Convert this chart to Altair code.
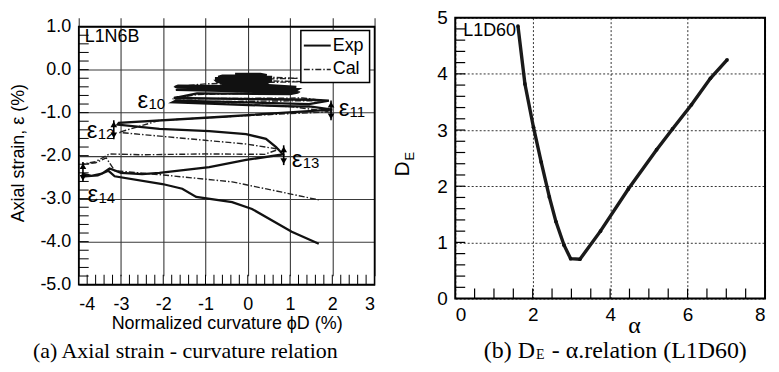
import altair as alt
import numpy as np
import pandas as pd

SANS = "Liberation Sans"
SERIF = "Liberation Serif"

# ---------------- panel (a): axial strain vs normalized curvature ----------------
exp_x = [-0.30, 0.30, 0.45, -0.60, -0.70, 0.55, 0.55, -0.75, -0.75, 0.55, 0.55, -0.75, -0.72, 0.50, 0.45, -0.65, -0.50, 0.30,
         1.15, -1.65, -1.72, 1.20, 1.15, -1.60, -1.70, 1.20, 1.00, -1.20,
         -1.75, 1.50, 1.92, 1.45, -1.70, -1.78, 0.80, 1.50, 2.00, -0.50, -3.05,
         -3.08, -2.09, -0.91, -0.04, 0.43, 0.67, 0.83,
         -0.04, -0.91, -2.09, -2.50, -3.00, -3.27, -3.45, -3.70, -3.92, -3.85, -3.55, -3.30, -3.15,
         -2.02, -1.55, -1.22, -0.37, 0.10, 1.04, 1.68]
exp_y = [-0.10, -0.10, -0.13, -0.14, -0.17, -0.17, -0.20, -0.20, -0.23, -0.23, -0.26, -0.26, -0.29, -0.29, -0.32, -0.32, -0.35, -0.35,
         -0.40, -0.37, -0.40, -0.45, -0.48, -0.44, -0.47, -0.53, -0.57, -0.55,
         -0.66, -0.70, -0.72, -0.80, -0.72, -0.76, -0.85, -0.86, -0.93, -1.09, -1.24,
         -1.28, -1.38, -1.43, -1.50, -1.61, -1.80, -1.97,
         -2.10, -2.27, -2.40, -2.43, -2.40, -2.30, -2.42, -2.47, -2.42, -2.48, -2.46, -2.35, -2.48,
         -2.66, -2.77, -2.96, -3.08, -3.24, -3.77, -4.05]

cal_x = [-0.40, 1.20, -0.60, 1.30, -1.00, -1.75, 1.20, -1.60, 1.25, -1.20,
         -1.78, 1.30, 1.80, -1.60, 1.00, 2.00, -0.04, -2.09, -3.05, -0.04,
         0.74, 0.40, -1.00, -2.50, -3.27, -3.60, -3.92, -3.60, -3.35, -3.15,
         -2.00, -0.37, 0.81, 1.68]
cal_y = [-0.15, -0.20, -0.24, -0.28, -0.33, -0.40, -0.46, -0.46, -0.52, -0.58,
         -0.68, -0.66, -0.72, -0.75, -0.86, -0.98, -1.07, -1.18, -1.46, -1.73,
         -1.85, -1.97, -1.96, -1.98, -1.96, -2.14, -2.20, -2.17, -2.05, -2.35,
         -2.45, -2.61, -2.85, -3.03]

eps_sub = ["10", "11", "12", "13", "14"]
eps_x = [-2.61, 2.15, -3.81, 1.04, -3.79]
eps_y = [-0.74, -0.92, -1.43, -2.10, -2.91]

arrow_x = [1.97, -3.17, 0.85, -3.90]
arrow_top = [-0.72, -1.18, -1.76, -2.15]
arrow_bot = [-1.18, -1.62, -2.22, -2.61]

legend_labels = ["Exp", "Cal"]

x1_ticks = [-4, -3, -2, -1, 0, 1, 2, 3]
y1_ticks = [-5, -4, -3, -2, -1, 0, 1]

# ---------------- panel (b): D_E vs alpha ----------------
alpha_vals = [1.62, 1.80, 2.02, 2.22, 2.43, 2.60, 2.81, 2.98, 3.22, 3.75, 4.47, 5.20, 5.61, 6.10, 6.59, 7.02]
de_vals = [4.85, 3.82, 3.05, 2.43, 1.81, 1.37, 0.95, 0.71, 0.70, 1.20, 1.95, 2.65, 3.02, 3.45, 3.92, 4.25]

x2_ticks = [0, 2, 4, 6, 8]
y2_ticks = [0, 1, 2, 3, 4, 5]

# ---------------- layout ----------------
W1, H1, TOP1 = 297, 268, 9
W2, H2 = 311, 282
TL = 5  # minor tick length (inward)

one = pd.DataFrame({"a": [0]})
LBL1 = "replace(format(datum.value, '.1f'), '\u2212', '-')"
LBL0 = "replace(format(datum.value, 'd'), '\u2212', '-')"


def label(text, x, y, size, font=SANS, angle=0, align="center", baseline="middle", dx=0, dy=0):
    mk = dict(text=text, font=font, fontSize=size, align=align, baseline=baseline, color="black")
    if angle:
        mk["angle"] = angle
    if dx:
        mk["dx"] = dx
    if dy:
        mk["dy"] = dy
    return alt.Chart(one).mark_text(**mk).encode(x=alt.value(x), y=alt.value(y))


xs1 = alt.Scale(domain=[-4, 3], nice=False, zero=False)
ys1 = alt.Scale(domain=[-5, 1], range=[H1, TOP1], nice=False, zero=False)

exp_df = pd.DataFrame({"x": exp_x, "y": exp_y, "i": range(len(exp_x))})
cal_df = pd.DataFrame({"x": cal_x, "y": cal_y, "i": range(len(cal_x))})
eps_df = pd.DataFrame({"x": eps_x, "y": eps_y, "sub": eps_sub})
arr_df = pd.DataFrame({"x": arrow_x, "top": arrow_top, "bot": arrow_bot})

xax1 = alt.Axis(values=x1_ticks, labelExpr=LBL0, grid=True, gridColor="#3a3a3a", gridWidth=1.1,
                ticks=False, domain=False, labelFont=SANS, labelFontSize=18, labelPadding=11,
                labelColor="black", title=None)
yax1 = alt.Axis(values=y1_ticks, labelExpr=LBL1, grid=True, gridColor="#3a3a3a", gridWidth=1.1,
                ticks=False, domain=False, labelFont=SANS, labelFontSize=18, labelPadding=8,
                labelColor="black", title=None)

grid1 = alt.Chart(one).mark_point(opacity=0).encode(
    x=alt.X("xv:Q", scale=xs1, axis=xax1), y=alt.Y("yv:Q", scale=ys1, axis=yax1)
).transform_calculate(xv="0", yv="0")

exp_line = alt.Chart(exp_df).mark_line(color="#111", strokeWidth=2.3).encode(
    x=alt.X("x:Q", scale=xs1), y=alt.Y("y:Q", scale=ys1), order="i:Q")
cal_line = alt.Chart(cal_df).mark_line(color="#222", strokeWidth=1.4, strokeDash=[6, 2, 1.5, 2]).encode(
    x=alt.X("x:Q", scale=xs1), y=alt.Y("y:Q", scale=ys1), order="i:Q")

frame1 = alt.Chart(pd.DataFrame({"x0": [-4], "x1": [3], "y0": [-5], "y1": [1]})).mark_rect(
    fillOpacity=0, stroke="black", strokeWidth=1.6).encode(
    x=alt.X("x0:Q", scale=xs1), x2="x1", y=alt.Y("y0:Q", scale=ys1), y2="y1")

# inward minor ticks
mx1 = pd.DataFrame({"v": [round(float(v), 2) for v in np.arange(-3.8, 3.0, 0.2)], "b": -5.0})
my1 = pd.DataFrame({"v": [round(float(v), 2) for v in np.arange(-4.8, 1.0, 0.2)], "b": -4.0})
tick_x1 = alt.Chart(mx1).mark_tick(orient="vertical", size=2 * TL, thickness=1, color="black",
                                   opacity=1, yOffset=-TL).encode(
    x=alt.X("v:Q", scale=xs1), y=alt.Y("b:Q", scale=ys1))
tick_y1 = alt.Chart(my1).mark_tick(orient="horizontal", size=2 * TL, thickness=1, color="black",
                                   opacity=1, xOffset=TL).encode(
    y=alt.Y("v:Q", scale=ys1), x=alt.X("b:Q", scale=xs1))

arr_rule = alt.Chart(arr_df).mark_rule(color="black", strokeWidth=1.6).encode(
    x=alt.X("x:Q", scale=xs1), y=alt.Y("top:Q", scale=ys1), y2="bot")
arr_up = alt.Chart(arr_df).mark_point(shape="triangle-up", filled=True, color="black", size=45,
                                      opacity=1, yOffset=4).encode(
    x=alt.X("x:Q", scale=xs1), y=alt.Y("top:Q", scale=ys1))
arr_dn = alt.Chart(arr_df).mark_point(shape="triangle-down", filled=True, color="black", size=45,
                                      opacity=1, yOffset=-4).encode(
    x=alt.X("x:Q", scale=xs1), y=alt.Y("bot:Q", scale=ys1))

eps_main = alt.Chart(eps_df).mark_text(text="\u03b5", font=SANS, fontSize=24, align="left",
                                       baseline="middle", color="black").encode(
    x=alt.X("x:Q", scale=xs1), y=alt.Y("y:Q", scale=ys1))
eps_num = alt.Chart(eps_df).mark_text(font=SANS, fontSize=15, align="left", baseline="middle",
                                      color="black", dx=11, dy=3).encode(
    x=alt.X("x:Q", scale=xs1), y=alt.Y("y:Q", scale=ys1), text="sub:N")

leg_box = alt.Chart(one).mark_rect(fill="white", stroke="black", strokeWidth=1.5).encode(
    x=alt.value(223), x2=alt.value(292), y=alt.value(13), y2=alt.value(65))
leg_exp = alt.Chart(one).mark_rule(color="#111", strokeWidth=2).encode(
    x=alt.value(226), x2=alt.value(253), y=alt.value(28))
leg_cal = alt.Chart(one).mark_rule(color="#222", strokeWidth=1.4, strokeDash=[6, 2, 1.5, 2]).encode(
    x=alt.value(226), x2=alt.value(253), y=alt.value(52))

left = alt.layer(
    grid1, tick_x1, tick_y1, frame1, cal_line, exp_line, arr_rule, arr_up, arr_dn, eps_main, eps_num,
    leg_box, leg_exp, leg_cal,
    label(legend_labels[0], 255, 28, 18, align="left"),
    label(legend_labels[1], 255, 52, 18, align="left"),
    label("L1N6B", 6, 19, 18, align="left"),
    label("Axial strain, \u03b5 (%)", -60, 136, 18, angle=270),
    label("Normalized curvature \u03d5D (%)", 149, 308, 18),
    label("(a) Axial strain - curvature relation", 107, 335, 22, font=SERIF),
).properties(width=W1, height=H1)

# ---------------- right panel ----------------
xs2 = alt.Scale(domain=[0, 8], nice=False, zero=False)
ys2 = alt.Scale(domain=[0, 5], nice=False, zero=False)

xax2 = alt.Axis(values=x2_ticks, labelExpr=LBL0, grid=True, gridColor="#333", gridWidth=1,
                gridDash=[2, 2], ticks=False, domain=False, labelFont=SANS, labelFontSize=19,
                labelPadding=7, labelColor="black", title=None)
yax2 = alt.Axis(values=y2_ticks, labelExpr=LBL0, grid=True, gridColor="#333", gridWidth=1,
                gridDash=[2, 2], ticks=False, domain=False, labelFont=SANS, labelFontSize=19,
                labelPadding=8, labelColor="black", title=None)

grid2 = alt.Chart(one).mark_point(opacity=0).encode(
    x=alt.X("xv:Q", scale=xs2, axis=xax2), y=alt.Y("yv:Q", scale=ys2, axis=yax2)
).transform_calculate(xv="0", yv="0")

de_df = pd.DataFrame({"a": alpha_vals, "d": de_vals, "i": range(len(alpha_vals))})
de_line = alt.Chart(de_df).mark_line(color="#1a1a1a", strokeWidth=3.4).encode(
    x=alt.X("a:Q", scale=xs2), y=alt.Y("d:Q", scale=ys2), order="i:Q")
de_pts = alt.Chart(de_df).mark_point(filled=True, color="#111", size=14, opacity=1).encode(
    x=alt.X("a:Q", scale=xs2), y=alt.Y("d:Q", scale=ys2))

frame2 = alt.Chart(pd.DataFrame({"x0": [0], "x1": [8], "y0": [0], "y1": [5]})).mark_rect(
    fillOpacity=0, stroke="black", strokeWidth=2).encode(
    x=alt.X("x0:Q", scale=xs2), x2="x1", y=alt.Y("y0:Q", scale=ys2), y2="y1")

mx2 = pd.DataFrame({"v": [round(float(v), 2) for v in np.arange(0.5, 8.0, 0.5)], "b": 0.0})
my2 = pd.DataFrame({"v": [round(float(v), 2) for v in np.arange(0.2, 5.0, 0.2)], "b": 0.0})
tick_x2 = alt.Chart(mx2).mark_tick(orient="vertical", size=2 * TL, thickness=1.2, color="black",
                                   opacity=1, yOffset=-TL).encode(
    x=alt.X("v:Q", scale=xs2), y=alt.Y("b:Q", scale=ys2))
tick_y2 = alt.Chart(my2).mark_tick(orient="horizontal", size=2 * TL, thickness=1.2, color="black",
                                   opacity=1, xOffset=TL).encode(
    y=alt.Y("v:Q", scale=ys2), x=alt.X("b:Q", scale=xs2))

right = alt.layer(
    grid2, tick_x2, tick_y2, frame2, de_line, de_pts,
    label("L1D60", 8, 13, 18, align="left"),
    label("D", -52, 152, 21, angle=270),
    label("E", -45, 139, 13, angle=270),
    label("\u03b1", 180, 310, 24, font=SERIF),
    label("(b) D", 80, 335, 24, font=SERIF, align="right"),
    label("E", 81, 335, 14, font=SERIF, align="left", dy=4),
    label("- \u03b1.relation (L1D60)", 97, 335, 24, font=SERIF, align="left"),
).properties(width=W2, height=H2)

chart = alt.hconcat(left, right, spacing=81, bounds="flush").properties(
    padding={"left": 2, "top": 0, "right": 5, "bottom": 5}
).configure_view(stroke=None)

chart.save("out.html", embed_options={"renderer": "svg", "actions": False})
